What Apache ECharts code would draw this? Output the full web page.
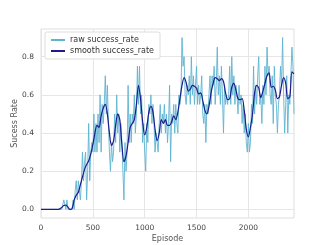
<!DOCTYPE html>
<html><head><meta charset="utf-8">
<script src="https://cdn.jsdelivr.net/npm/echarts@6/dist/echarts.min.js"></script>
<style>html,body{margin:0;padding:0;background:#fff}#c{width:327px;height:245px}</style>
</head><body><div id="c"></div>
<script>
const rawStep = 10;
const rawValues = [
0,0,0,0,0,0,0,0,0,0,
0,0,0,0,0,0,0,0,0,0,
0,0,0.05,0.05,0,0.05,0,0,0,0,
0,0.05,0,0.1,0.15,0.05,0.15,0.1,0.05,0.15,
0.3,0.15,0.25,0.3,0.05,0.2,0.45,0.15,0.3,0.35,
0.3,0.5,0.3,0.45,0.3,0.5,0.35,0.6,0.3,0.55,
0.45,0.55,0.7,0.5,0.65,0.45,0.3,0.2,0.35,0.25,
0.3,0.5,0.35,0.6,0.4,0.5,0.3,0.45,0.35,0.2,
0.05,0.35,0.2,0.3,0.65,0.35,0.5,0.35,0.5,0.45,
0.6,0.4,0.5,0.75,0.55,0.75,0.5,0.6,0.35,0.45,
0.3,0.2,0.45,0.35,0.55,0.5,0.6,0.45,0.55,0.45,
0.3,0.4,0.35,0.3,0.45,0.55,0.4,0.5,0.45,0.55,
0.4,0.5,0.35,0.45,0.65,0.25,0.5,0.45,0.55,0.4,
0.55,0.45,0.4,0.6,0.55,0.6,0.9,0.75,0.8,0.6,
0.55,0.65,0.6,0.7,0.55,0.8,0.6,0.7,0.55,0.65,
0.75,0.55,0.65,0.55,0.6,0.7,0.5,0.45,0.55,0.35,
0.55,0.5,0.6,0.7,0.55,0.7,0.65,0.75,0.55,0.65,
0.85,0.6,0.7,0.55,0.75,0.6,0.4,0.65,0.55,0.6,
0.55,0.6,0.75,0.55,0.8,0.6,0.7,0.55,0.65,0.6,
0.5,0.65,0.55,0.6,0.45,0.55,0.4,0.5,0.35,0.3,
0.45,0.3,0.35,0.55,0.45,0.75,0.5,0.65,0.55,0.7,
0.8,0.55,0.6,0.45,0.65,0.55,0.75,0.6,0.85,0.7,
0.75,0.6,0.55,0.7,0.45,0.75,0.6,0.55,0.4,0.55,
0.6,0.75,0.65,0.9,0.6,0.4,0.55,0.7,0.4,0.6,
0.55,0.7,0.85,0.75,0.5
];
const smoothStep = 20;
const smoothValues = [
0,0,0,0,0,0,0,0,0,0.003,
0.01,0.02,0.022,0.012,0.0,0.005,0.05,0.075,0.09,0.13,
0.17,0.21,0.235,0.255,0.29,0.34,0.40,0.44,0.43,0.49,
0.53,0.55,0.5,0.40,0.335,0.36,0.44,0.50,0.47,0.34,
0.25,0.28,0.35,0.43,0.45,0.47,0.55,0.65,0.58,0.46,
0.39,0.43,0.51,0.54,0.51,0.42,0.36,0.40,0.47,0.45,
0.47,0.44,0.44,0.46,0.49,0.47,0.51,0.58,0.65,0.69,
0.665,0.62,0.63,0.65,0.645,0.635,0.605,0.61,0.57,0.52,
0.50,0.54,0.61,0.66,0.69,0.685,0.675,0.685,0.67,0.61,
0.575,0.58,0.64,0.66,0.625,0.58,0.575,0.58,0.52,0.42,
0.38,0.43,0.50,0.61,0.65,0.635,0.585,0.62,0.66,0.70,
0.715,0.64,0.645,0.625,0.58,0.59,0.65,0.69,0.66,0.58,
0.59,0.72,0.71
];
const xTicks = [0,500,1000,1500,2000];
const yTicks = [0,0.2,0.4,0.6,0.8];
const xLabel = 'Episode';
const yLabel = 'Sucess Rate';
const rawName = 'raw success_rate';
const smoothName = 'smooth success_rate';

const rawData = rawValues.map((v,i)=>[i*rawStep,v]);
const smoothData = smoothValues.map((v,i)=>[i*smoothStep,v]);
const font = 'DejaVu Sans';
const chart = echarts.init(document.getElementById('c'), null, {renderer:'canvas'});
chart.setOption({
  animation:false,
  backgroundColor:'#fff',
  textStyle:{fontFamily:font},
  grid:{left:41,right:33,top:29,bottom:27,show:true,borderColor:'#dedede',borderWidth:1,
        containLabel:false,outerBoundsMode:'none'},
  legend:{
    orient:'vertical',left:45,top:32,
    itemWidth:14,itemHeight:2,itemGap:3,
    icon:'rect',
    padding:[4,6,4,6],
    borderColor:'#dddddd',borderWidth:1,borderRadius:2,backgroundColor:'#fff',
    textStyle:{fontFamily:font,fontSize:8,color:'#333',padding:[0,0,0,0]},
    data:[rawName,smoothName]
  },
  xAxis:{
    type:'value',min:0,max:2440,interval:500,
    name:xLabel,nameLocation:'middle',nameGap:17,nameMoveOverlap:false,
    nameTextStyle:{fontFamily:font,fontSize:8,color:'#555'},
    axisLine:{show:false},axisTick:{show:false,customValues:xTicks},
    axisLabel:{fontFamily:font,fontSize:7.5,color:'#444',margin:6,customValues:xTicks,formatter:v=>String(v)},
    splitLine:{show:true,lineStyle:{color:'#e6e6e6',width:1}}
  },
  yAxis:{
    type:'value',min:-0.045,max:0.945,
    name:yLabel,nameLocation:'middle',nameGap:22,nameMoveOverlap:false,
    nameTextStyle:{fontFamily:font,fontSize:8,color:'#555'},
    axisLine:{show:false},
    axisTick:{show:false,customValues:yTicks},
    axisLabel:{fontFamily:font,fontSize:7.5,color:'#444',margin:7,customValues:yTicks,formatter:v=>v.toFixed(1)},
    splitLine:{show:true,lineStyle:{color:'#e6e6e6',width:1}}
  },
  series:[
    {name:rawName,type:'line',data:rawData,showSymbol:false,color:'#5fb4d0',
     lineStyle:{width:1,color:'#5fb4d0',opacity:0.9},z:2},
    {name:smoothName,type:'line',data:smoothData,showSymbol:false,smooth:0.3,color:'#1c1c8c',
     lineStyle:{width:1.2,color:'#1c1c8c'},z:3}
  ]
});
</script></body></html>
